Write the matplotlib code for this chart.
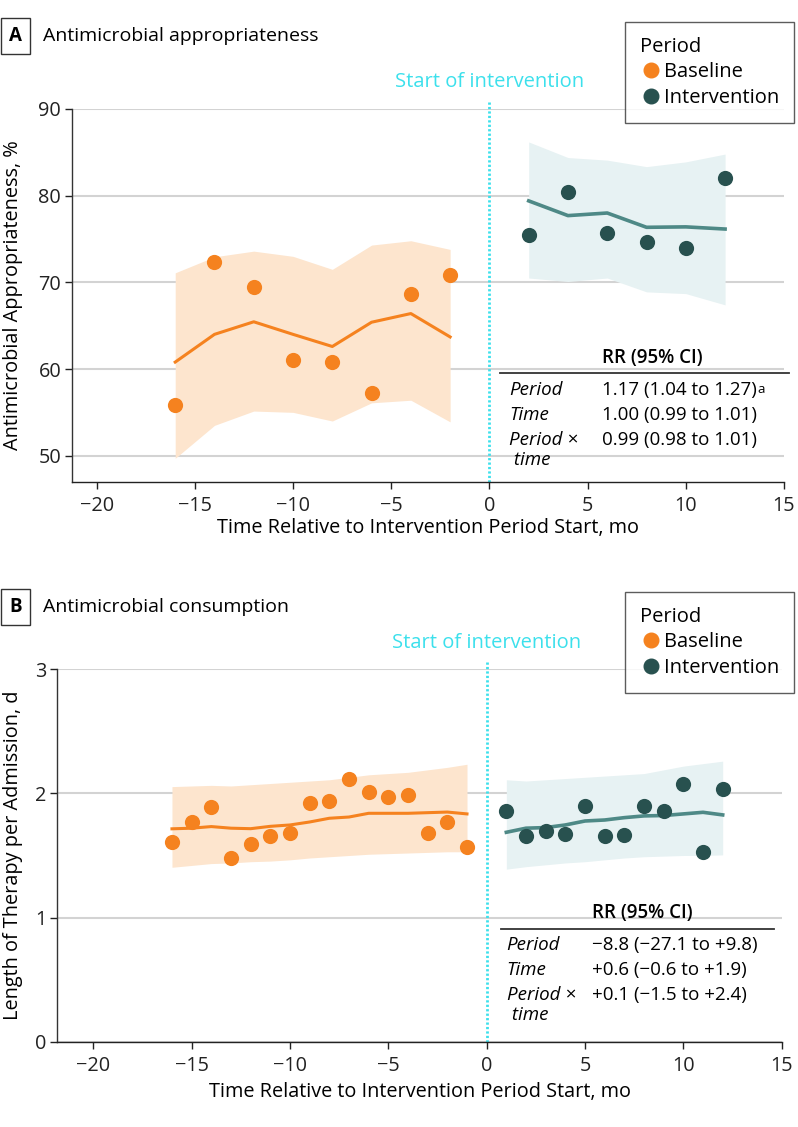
import matplotlib
matplotlib.use("Agg")
import matplotlib.pyplot as plt
from matplotlib.lines import Line2D
import numpy as np

plt.rcParams['font.family'] = ['Open Sans', 'DejaVu Sans']

# ---------------- Data: Panel A (appropriateness, %) ----------------
a_base_x = [-16, -14, -12, -10, -8, -6, -4, -2]
a_base_obs = [55.9, 72.4, 69.5, 61.0, 60.8, 57.2, 68.7, 70.85]
a_base_fit = [60.8, 64.0, 65.45, 64.0, 62.6, 65.4, 66.4, 63.7]
a_base_hi = [71.1, 72.95, 73.6, 73.0, 71.5, 74.3, 74.8, 73.8]
a_base_lo = [49.7, 53.5, 55.15, 55.0, 54.0, 56.1, 56.4, 53.9]

a_int_x = [2, 4, 6, 8, 10, 12]
a_int_obs = [75.5, 80.4, 75.7, 74.7, 74.0, 82.0]
a_int_fit = [79.4, 77.7, 78.0, 76.35, 76.4, 76.15]
a_int_hi = [86.2, 84.4, 84.1, 83.35, 83.9, 84.8]
a_int_lo = [70.5, 70.1, 70.5, 68.9, 68.7, 67.4]

# ---------------- Data: Panel B (length of therapy, d) ----------------
b_base_x = list(range(-16, 0))
b_base_obs = [1.607, 1.768, 1.889, 1.483, 1.593, 1.660, 1.684, 1.921,
              1.940, 2.117, 2.012, 1.974, 1.985, 1.679, 1.773, 1.571]
b_base_fit = [1.715, 1.72, 1.733, 1.72, 1.716, 1.735, 1.746, 1.77,
              1.80, 1.81, 1.84, 1.84, 1.84, 1.845, 1.85, 1.835]
b_base_hi = [2.055, 2.06, 2.065, 2.06, 2.07, 2.08, 2.09, 2.10,
             2.11, 2.13, 2.15, 2.16, 2.17, 2.19, 2.21, 2.235]
b_base_lo = [1.405, 1.42, 1.435, 1.44, 1.45, 1.455, 1.465, 1.48,
             1.49, 1.50, 1.51, 1.515, 1.52, 1.525, 1.53, 1.53]

b_int_x = list(range(1, 13))
b_int_obs = [1.861, 1.657, 1.698, 1.673, 1.902, 1.657, 1.663, 1.902,
             1.861, 2.077, 1.529, 2.036]
b_int_fit = [1.687, 1.72, 1.725, 1.746, 1.778, 1.786, 1.805, 1.819,
             1.822, 1.835, 1.848, 1.827]
b_int_hi = [2.11, 2.10, 2.11, 2.12, 2.13, 2.14, 2.15, 2.16, 2.19, 2.22, 2.24, 2.26]
b_int_lo = [1.39, 1.41, 1.425, 1.44, 1.45, 1.465, 1.48, 1.49, 1.495, 1.50, 1.50, 1.505]

# table text
a_rows = ["Period", "Time", "Period \u00d7\n time"]
a_vals = ["1.17 (1.04 to 1.27)", "1.00 (0.99 to 1.01)", "0.99 (0.98 to 1.01)"]
b_rows = ["Period", "Time", "Period \u00d7\n time"]
b_vals = ["\u22128.8 (\u221227.1 to +9.8)", "+0.6 (\u22120.6 to +1.9)", "+0.1 (\u22121.5 to +2.4)"]

xticks = [-20, -15, -10, -5, 0, 5, 10, 15]
a_yticks = [50, 60, 70, 80, 90]
b_yticks = [0, 1, 2, 3]

# ---------------- Style ----------------
ORANGE = "#F5821F"
ORANGE_BAND = "#FDE5CE"
TEAL_PT = "#28514F"
TEAL_LINE = "#4E8986"
TEAL_BAND = "#E7F2F3"
CYAN = "#3CE0EC"
GRID = "#D3D3D3"
FS = 13.5
FS_AX = 14.3

W, H = 798, 1127
fig = plt.figure(figsize=(W / 100, H / 100), dpi=100)


def fx(px):
    return px / W


def fy(py):
    return 1 - py / H


def make_panel(rect_px, xlim, ylim, yticks, bx, bobs, bfit, bhi, blo,
               ix, iobs, ifit, ihi, ilo, ylabel, xlab_y, ylab_x):
    l, t, r, b = rect_px
    ax = fig.add_axes([fx(l), fy(b), fx(r) - fx(l), fy(t) - fy(b)])
    ax.set_xlim(*xlim)
    ax.set_ylim(*ylim)
    ax.set_xticks(xticks)
    ax.set_yticks(yticks)
    for y in yticks:
        ax.axhline(y, color=GRID, lw=1.5, zorder=0)
    ax.fill_between(bx, blo, bhi, color=ORANGE_BAND, lw=0, zorder=1)
    ax.fill_between(ix, ilo, ihi, color=TEAL_BAND, lw=0, zorder=1)
    ax.plot(bx, bfit, color=ORANGE, lw=2.2, zorder=3)
    ax.plot(ix, ifit, color=TEAL_LINE, lw=2.6, zorder=3)
    ax.scatter(bx, bobs, s=120, color=ORANGE, lw=0, zorder=4)
    ax.scatter(ix, iobs, s=120, color=TEAL_PT, lw=0, zorder=4)
    ax.axvline(0, ymin=0, ymax=1.025, color=CYAN, lw=2.0,
               linestyle=(0, (0.8, 0.8)), clip_on=False, zorder=2)
    for s in ["top", "right"]:
        ax.spines[s].set_visible(False)
    ax.spines["left"].set_color("#333333")
    ax.spines["bottom"].set_color("#222222")
    ax.spines["left"].set_linewidth(1.0)
    ax.spines["bottom"].set_linewidth(1.0)
    ax.tick_params(axis="both", labelsize=FS_AX, length=5, width=1.0,
                   colors="#222222", pad=3)
    ax.tick_params(axis="x", pad=5)
    ax.set_xlabel("Time Relative to Intervention Period Start, mo", fontsize=FS_AX)
    ax.set_ylabel(ylabel, fontsize=FS_AX)
    hpx = b - t
    wpx = r - l
    ax.xaxis.set_label_coords(0.5, (b - xlab_y) / hpx)
    ax.xaxis.label.set_va("center")
    ax.yaxis.set_label_coords((ylab_x - l) / wpx, 0.5)
    ax.yaxis.label.set_va("center")
    return ax


axA = make_panel((72.3, 109, 784, 481.7), (-21.24, 15), (47.0, 90), a_yticks,
                 a_base_x, a_base_obs, a_base_fit, a_base_hi, a_base_lo,
                 a_int_x, a_int_obs, a_int_fit, a_int_hi, a_int_lo,
                 "Antimicrobial Appropriateness, %", 528, 13)
axB = make_panel((57.3, 669.3, 781.7, 1041.7), (-21.83, 15), (0, 3), b_yticks,
                 b_base_x, b_base_obs, b_base_fit, b_base_hi, b_base_lo,
                 b_int_x, b_int_obs, b_int_fit, b_int_hi, b_int_lo,
                 "Length of Therapy per Admission, d", 1092, 13)


def panel_header(letter, title, ytop, ybot):
    yc = (ytop + ybot) / 2
    fig.text(fx(15.5), fy(yc), letter, ha="center", va="center",
             fontsize=FS, fontweight="bold",
             bbox=dict(boxstyle="square,pad=0.42", fc="white", ec="#333333", lw=1.0))
    fig.text(fx(43), fy(yc), title, ha="left", va="center", fontsize=FS + 0.5)


panel_header("A", "Antimicrobial appropriateness", 21, 51.5)
panel_header("B", "Antimicrobial consumption", 592, 622)

# Start of intervention labels
fig.text(fx(489.3), fy(82), "Start of intervention", ha="center", va="center",
         color=CYAN, fontsize=14.5)
fig.text(fx(486.7), fy(643), "Start of intervention", ha="center", va="center",
         color=CYAN, fontsize=14.5)


def legend(top_px):
    handles = [Line2D([], [], marker="o", color=ORANGE, ls="none", markersize=10.5),
               Line2D([], [], marker="o", color=TEAL_PT, ls="none", markersize=10.5)]
    leg = fig.legend(handles, ["Baseline", "Intervention"], title="Period",
                     loc="upper right", bbox_to_anchor=(fx(794), fy(top_px)),
                     fontsize=14.5, title_fontsize=14.5, frameon=True,
                     fancybox=False, edgecolor="#333333", handletextpad=0.15,
                     handlelength=1.0, borderpad=0.75, labelspacing=0.28,
                     borderaxespad=0)
    leg.get_frame().set_linewidth(1.0)
    leg._legend_box.align = "left"
    leg._legend_box.sep = 4
    return leg


legend(21.7)
legend(591.7)


def table(rows, vals, x_left, x_val, x_rule0, x_rule1, y_head, y_rule, y_rows):
    fig.text(fx(x_val), fy(y_head), "RR (95% CI)", ha="left", va="center",
             fontsize=FS, fontweight="semibold")
    fig.add_artist(Line2D([fx(x_rule0), fx(x_rule1)], [fy(y_rule), fy(y_rule)],
                          color="#333333", lw=1.3))
    texts = []
    for i, (r, v) in enumerate(zip(rows, vals)):
        y = y_rows[i]
        fig.text(fx(x_left), fy(y), r, ha="left", va="top", fontsize=FS,
                 style="italic", linespacing=1.15)
        texts.append(fig.text(fx(x_val), fy(y), v, ha="left", va="top", fontsize=FS))
    return texts


tA = table(a_rows, a_vals, 509.3, 601.7, 500, 789, 358, 373.3, [381, 406, 431])
tB = table(b_rows, b_vals, 506.7, 591.7, 500.7, 774, 913.3, 929.3, [936, 961, 986])
fig.canvas.draw()
bb = tA[0].get_window_extent()
fig.text(bb.x1 / W + 0.001, bb.y1 / H - 0.002, "a", fontsize=FS - 4, ha="left", va="top")

fig.savefig("out.png", dpi=100)
